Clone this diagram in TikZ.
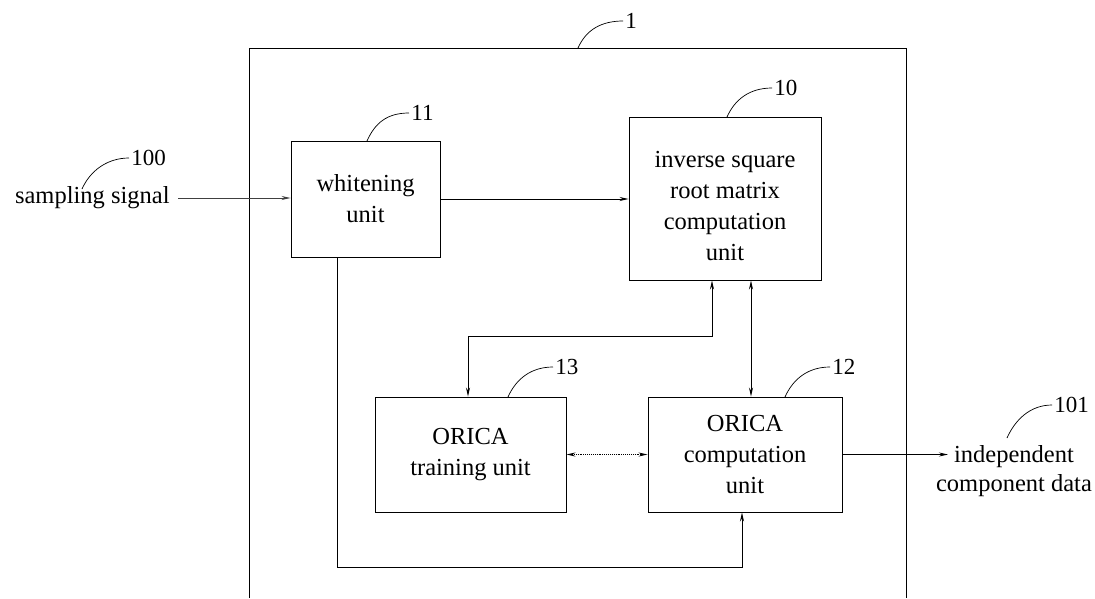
\documentclass[tikz,border=0pt]{standalone}
\usepackage{fontspec}
\setmainfont{Liberation Serif}
\usetikzlibrary{arrows.meta,calc}
\begin{document}
\begin{tikzpicture}[x=1pt,y=-1pt,
  line width=0.9pt,
  unitbox/.style={draw, rectangle, inner sep=0pt, align=center, font=\fontsize{24.5}{31}\selectfont},
  txt/.style={inner sep=0pt, align=center, font=\fontsize{24.5}{29}\selectfont},
  num/.style={inner sep=0pt, inner xsep=2pt, anchor=west, font=\fontsize{23}{23}\selectfont},
  lead/.style={line width=0.7pt},
  tip/.style={-{Stealth[length=9pt,width=4pt]}},
  dtip/.style={{Stealth[length=9pt,width=4pt]}-{Stealth[length=9pt,width=4pt]}},
]
\useasboundingbox (0,0) rectangle (1095,598);

% outer unit 1
\coordinate (o1) at (249,598);
\coordinate (o2) at (249,48);
\coordinate (o3) at (906,48);
\coordinate (o4) at (906,598);
\draw (o1) -- (o2) -- (o3) -- (o4);

% boxes
\node[unitbox, minimum width=149pt, minimum height=116pt] (wh) at (365.5,199) {whitening\\unit};
\node[unitbox, minimum width=192pt, minimum height=163pt] (inv) at (725,198.5) {\rule{0pt}{31pt}inverse square\\root matrix\\computation\\unit};
\node[unitbox, minimum width=191pt, minimum height=115pt] (tr) at (470.5,454.5) {ORICA\\training unit};
\node[unitbox, minimum width=194pt, minimum height=115pt] (comp) at (745,454.5) {ORICA\\computation\\unit};

% external texts
\node[txt, anchor=east, inner xsep=8pt] (ss) at (178,198) {sampling signal};
\node[txt] (out) at (1014,471) {independent\\component data};

% reference numerals
\node[num] (n1) at (623,21) {1};
\node[num] (n11) at (409,113) {11};
\node[num] (n10) at (772,88) {10};
\node[num] (n100) at (129,158) {100};
\node[num] (n13) at (553,367) {13};
\node[num] (n12) at (830,367) {12};
\node[num] (n101) at (1052,405) {101};

% leader start points
\coordinate (a1) at (578,48);
\coordinate (a11) at (367,141);
\coordinate (a10) at (727,117);
\coordinate (a100) at (82,189);
\coordinate (a13) at (508,397);
\coordinate (a12) at (785,397);
\coordinate (a101) at (1007,438);

\foreach \s/\t in {a1/n1,a11/n11,a10/n10,a100/n100,a13/n13,a12/n12,a101/n101}
  \draw[lead] (\s) .. controls +(8,-18) and +(-22,0) .. (\t.west);

% helper coordinates for routed connectors
\coordinate (k1) at (712,336);
\coordinate (k2) at (468,336);
\coordinate (k3) at (751,336);
\coordinate (k4) at (337,567);
\coordinate (k5) at (742,567);
\coordinate (otip) at (948,453);

% connectors
\draw[tip, black!75] (ss.east) -- (ss.east -| wh.west);
\draw[tip] (wh.east) -- (wh.east -| inv.west);
\draw[dtip] (inv.south -| k1) -- (k1) -- (k2) -- (tr.north -| k2);
\draw[dtip] (inv.south -| k3) -- (comp.north -| k3);
\draw[dtip, densely dotted] (tr.east) -- (comp.west);
\draw[tip] (wh.south -| k4) -- (k4) -- (k5) -- (comp.south -| k5);
\draw[tip] (comp.east) -- (comp.east -| otip);

\end{tikzpicture}
\end{document}
